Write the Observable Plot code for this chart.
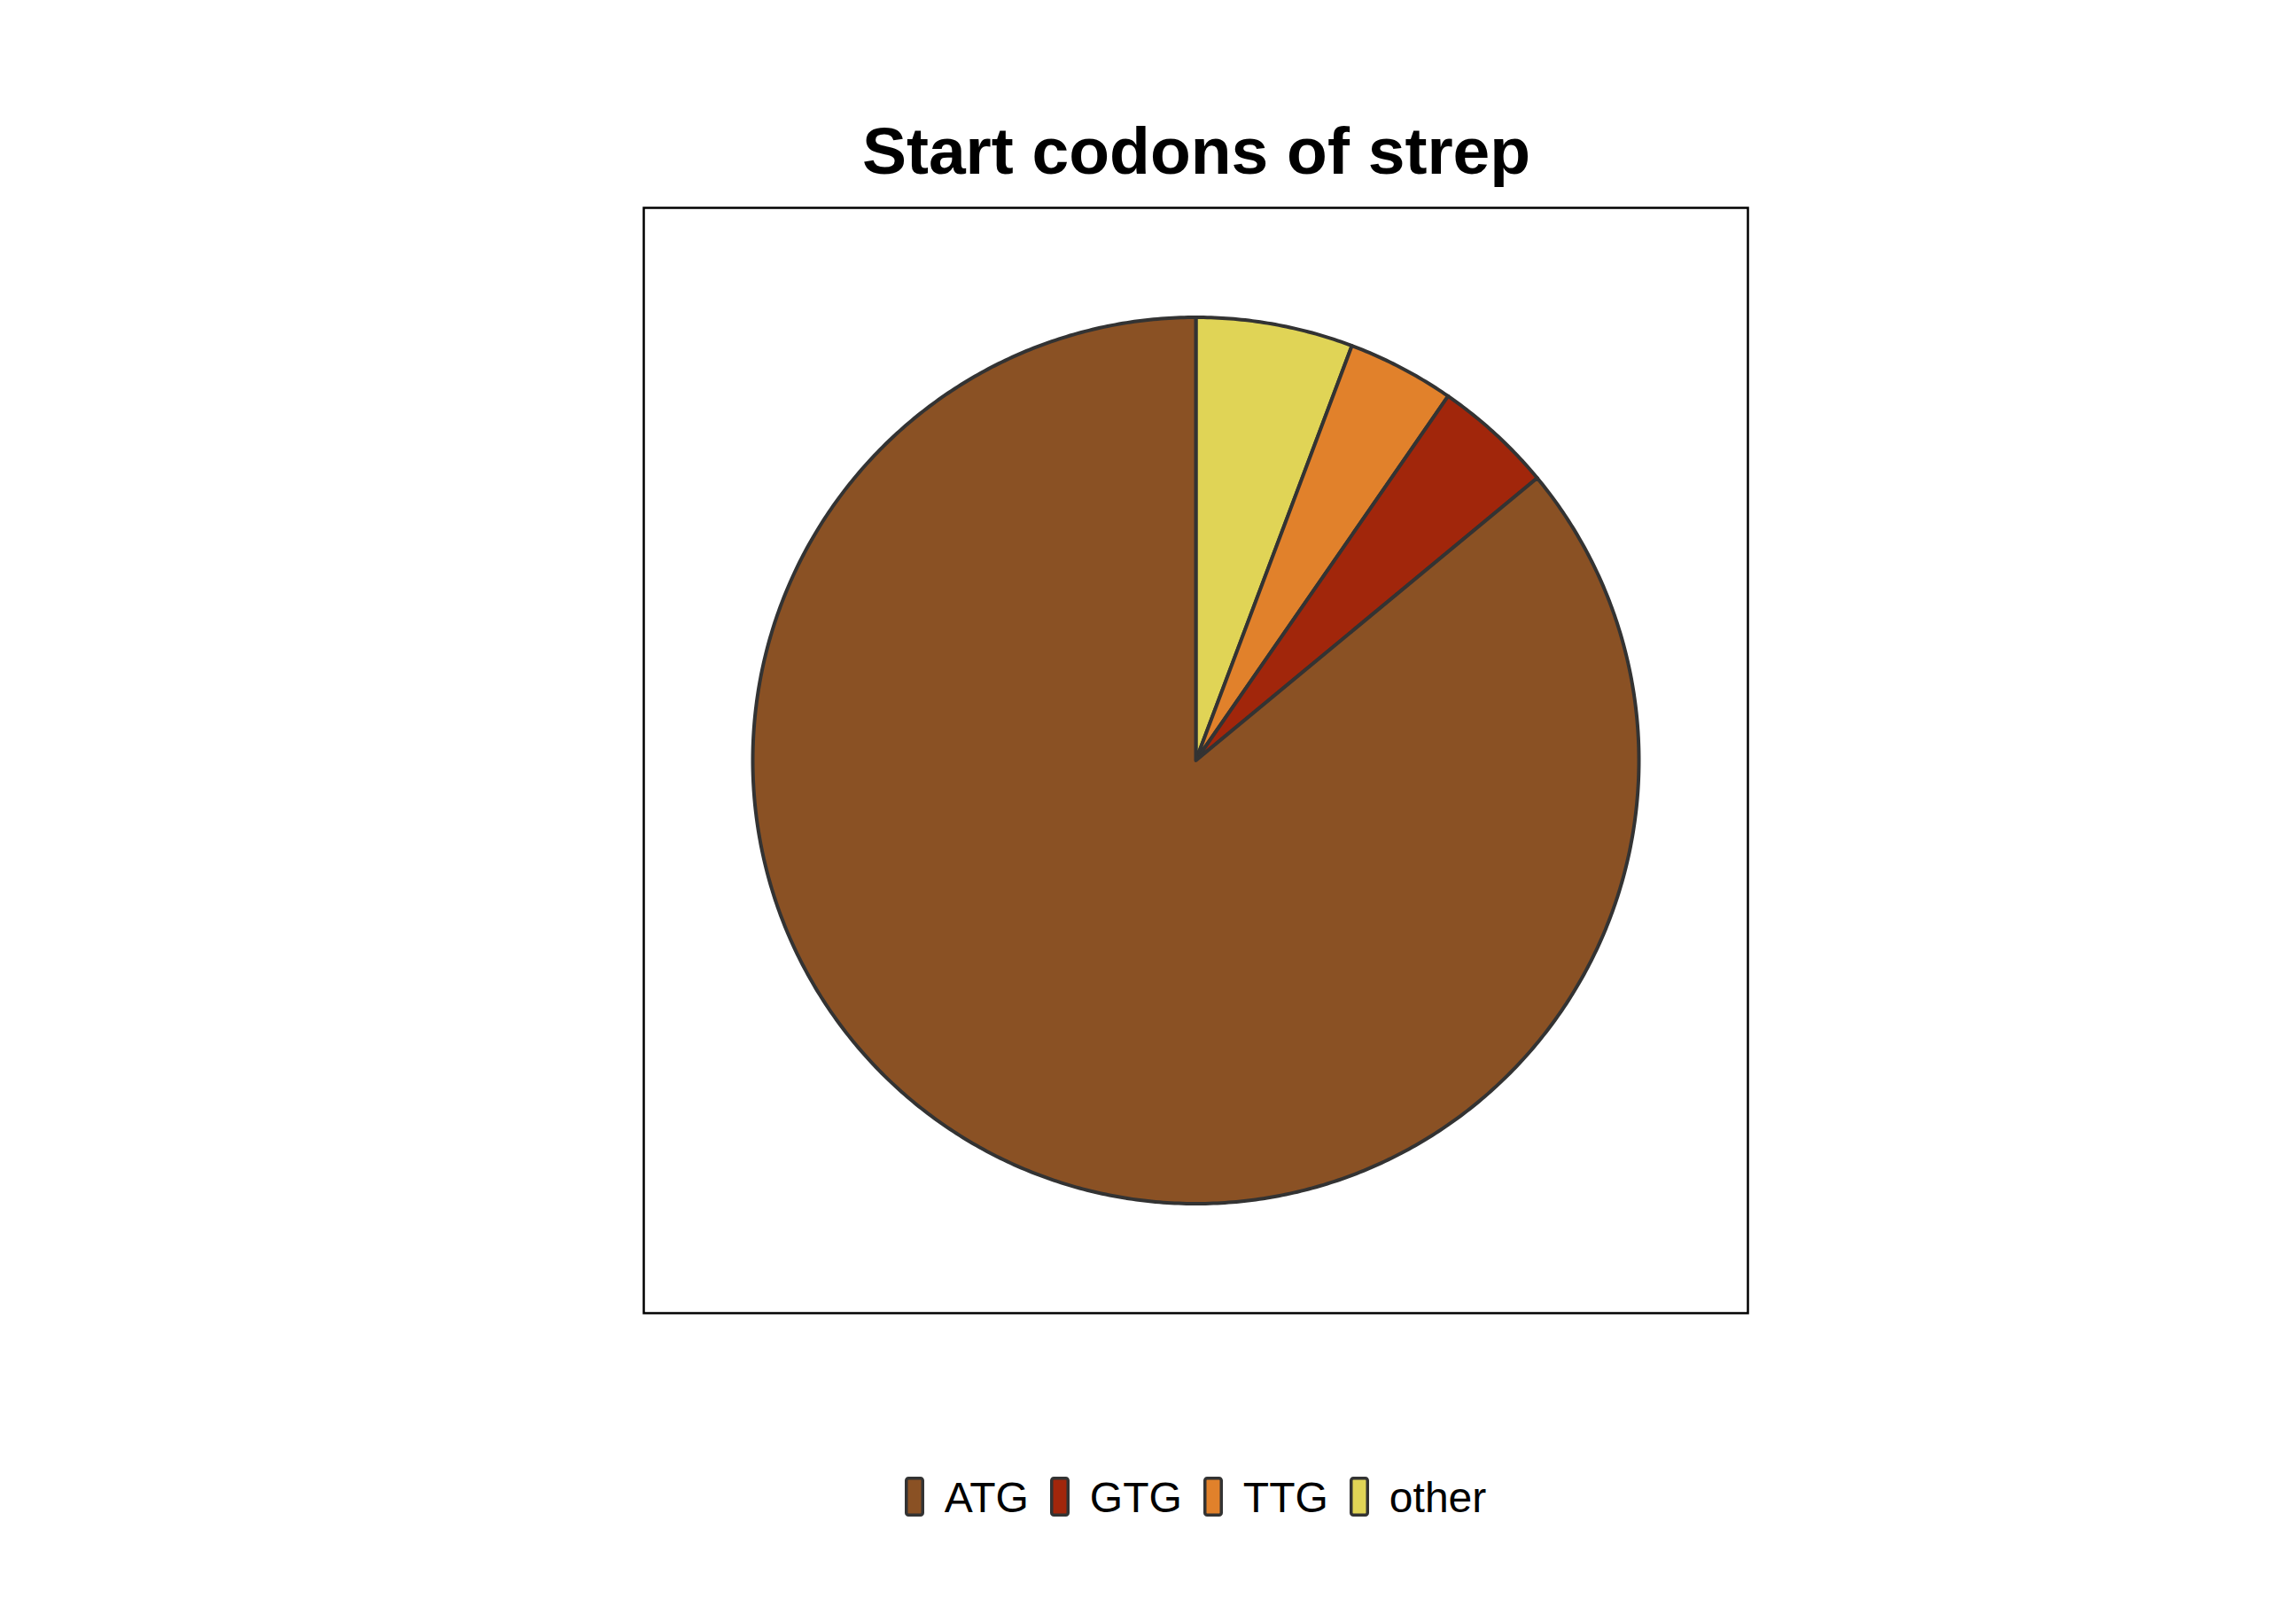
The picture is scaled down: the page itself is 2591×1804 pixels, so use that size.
<!DOCTYPE html>
<html>
<head>
<meta charset="utf-8">
<script src="https://cdn.jsdelivr.net/npm/d3@7"></script>
<script src="https://cdn.jsdelivr.net/npm/@observablehq/plot@0.6"></script>
<style>
  html, body { margin: 0; padding: 0; background: #ffffff; width: 2591px; height: 1804px; overflow: hidden;
    font-family: "Liberation Sans", Arial, Helvetica, sans-serif; }
  #chart { position: absolute; left: 0; top: 0; }
  #title { position: absolute; left: 750px; width: 1200px; top: 133px; text-align: center;
    font-weight: bold; font-size: 75px; line-height: 1; color: #000; white-space: nowrap; }
  #legend { position: absolute; left: 749px; width: 1200px; top: 1666px; display: flex;
    justify-content: center; align-items: flex-start; font-size: 48px; line-height: 1; color: #000; }
  .item { display: flex; align-items: flex-start; margin: 0 12px; }
  .item svg { display: block; }
  .item span { margin-left: 23px; white-space: nowrap; }
</style>
</head>
<body>
<div id="chart"></div>
<div id="title"></div>
<div id="legend"></div>
<script>
const title = "Start codons of strep";
const codons = ["ATG", "GTG", "TTG", "other"];
const percents = [86.0, 4.36, 3.91, 5.73];
const colors = ["#8a5124", "#a1260b", "#e1812b", "#e0d456"];

// slices run clockwise from 12 o'clock in reverse legend order
const rows = codons.map((c, i) => ({codon: c, value: percents[i]})).reverse();
const arcs = d3.pie().sort(null).value(d => d.value)(rows);
const features = arcs.map(a => {
  const n = Math.max(2, Math.ceil((a.endAngle - a.startAngle) / (Math.PI / 360)));
  const ring = [[0, 0]];
  for (let k = 0; k <= n; k++) {
    const t = a.startAngle + (a.endAngle - a.startAngle) * k / n;
    ring.push([Math.sin(t), -Math.cos(t)]);
  }
  ring.push([0, 0]);
  return {type: "Feature", properties: {codon: a.data.codon}, geometry: {type: "Polygon", coordinates: [ring]}};
});

const chart = Plot.plot({
  width: 2591,
  height: 1804,
  marginTop: 234,
  marginLeft: 726,
  marginRight: 619,
  marginBottom: 323,
  projection: {type: "identity", domain: {type: "MultiPoint", coordinates: [[-1, -1], [1, 1]]}, inset: 123},
  color: {domain: codons, range: colors},
  style: {background: "transparent"},
  marks: [
    Plot.geo(features, {fill: d => d.properties.codon, stroke: "#333333", strokeWidth: 4}),
    Plot.frame({stroke: "#000000", strokeWidth: 2.5})
  ]
});
document.getElementById("chart").appendChild(chart);
document.getElementById("title").textContent = title;

const legend = document.getElementById("legend");
codons.forEach((c, i) => {
  const item = document.createElement("div");
  item.className = "item";
  item.innerHTML = `<svg width="22" height="45"><rect x="1.75" y="1.75" width="18.5" height="41.5" rx="2.5" fill="${colors[i]}" stroke="#333333" stroke-width="3.5"/></svg><span></span>`;
  item.querySelector("span").textContent = c;
  legend.appendChild(item);
});
</script>
</body>
</html>
